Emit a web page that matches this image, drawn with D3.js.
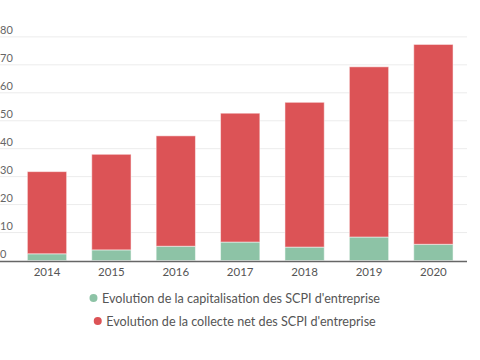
<!DOCTYPE html>
<html><head><meta charset="utf-8">
<script src="https://cdn.jsdelivr.net/npm/d3@7"></script>
<style>html,body{margin:0;padding:0;background:#fff;}</style>
</head><body><svg id="c" width="480" height="360"></svg>
<script>
const years = ["2014","2015","2016","2017","2018","2019","2020"];
const capitalisation = [2.4, 3.8, 5.1, 6.6, 4.8, 8.4, 5.8];
const collecte = [29.4, 34.2, 39.5, 46.1, 51.8, 60.9, 71.5];
const yTicks = [0,10,20,30,40,50,60,70,80];
const seriesNames = ["Evolution de la capitalisation des SCPI d'entreprise","Evolution de la collecte net des SCPI d'entreprise"];
const colors = ["#8dc3a6","#dc5356"];

const svg = d3.select("#c");
const font = "Lato, 'Open Sans', sans-serif";
const x = d3.scaleBand().domain(years).range([14.8, 465.6]).paddingInner(0.39).paddingOuter(0.195);
const y = d3.scaleLinear().domain([0,80]).range([260.5, 36.9]);

// grid
svg.append("g").selectAll("line").data(yTicks.slice(1)).join("line")
  .attr("x1",0).attr("x2",467).attr("y1",d=>y(d)).attr("y2",d=>y(d))
  .attr("stroke","#ececec").attr("stroke-width",1);
svg.append("g").selectAll("text").data(yTicks).join("text")
  .attr("x",0).attr("y",d=>y(d)-3).text(d=>d)
  .attr("font-family",font).attr("font-size",11).attr("fill","#666");

const data = years.map((yr,i)=>({yr, a:capitalisation[i], b:collecte[i]}));
const stack = d3.stack().keys(["a","b"])(data);
svg.append("g").selectAll("g").data(stack).join("g")
  .attr("fill",(d,i)=>colors[i])
  .selectAll("rect").data(d=>d).join("rect")
  .attr("x",d=>x(d.data.yr)).attr("width",x.bandwidth())
  .attr("y",d=>y(d[1])).attr("height",d=>y(d[0])-y(d[1]))
  .attr("stroke","#fff").attr("stroke-opacity",0.5).attr("stroke-width",1);

// x axis
svg.append("line").attr("x1",0).attr("x2",467).attr("y1",261.5).attr("y2",261.5)
  .attr("stroke","#666").attr("stroke-width",1.5);
svg.append("g").selectAll("text").data(years).join("text")
  .attr("x",d=>x(d)+x.bandwidth()/2).attr("y",275.5).attr("text-anchor","middle")
  .text(d=>d).attr("font-family",font).attr("font-size",11.5).attr("fill","#555");

// legend
const lg = svg.append("g");
seriesNames.forEach((s,i)=>{
  const yy = 298 + i*23;
  const t = lg.append("text").attr("x",241).attr("y",yy+4.5).attr("text-anchor","middle")
    .text(s).attr("font-family",font).attr("font-size",12.6).attr("fill","#555");
  const bb = t.node().getBBox();
  lg.append("circle").attr("cx",bb.x-8.5).attr("cy",yy).attr("r",4).attr("fill",colors[i]);
});
</script></body></html>
